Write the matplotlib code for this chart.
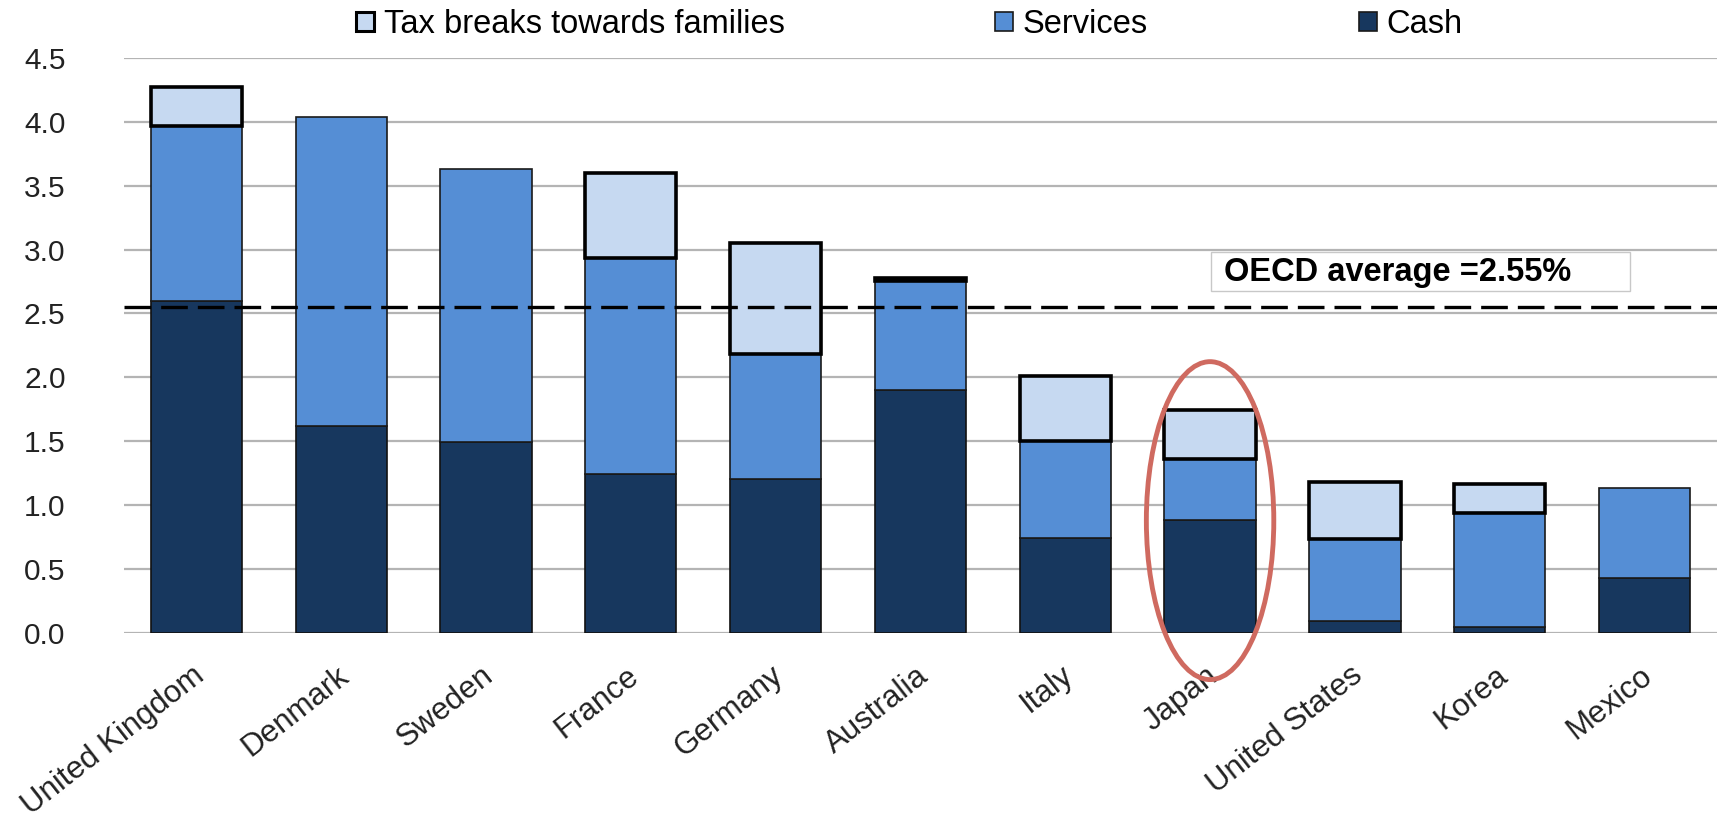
import matplotlib
matplotlib.use("Agg")
import matplotlib.pyplot as plt
from matplotlib.patches import Patch, Ellipse, Rectangle
from matplotlib.transforms import ScaledTranslation
import numpy as np

plt.rcParams['font.family'] = ['Liberation Sans', 'DejaVu Sans']

countries = ["United Kingdom", "Denmark", "Sweden", "France", "Germany", "Australia",
             "Italy", "Japan", "United States", "Korea", "Mexico"]
cash = [2.60, 1.62, 1.49, 1.24, 1.20, 1.90, 0.74, 0.88, 0.09, 0.04, 0.43]
services = [1.37, 2.42, 2.14, 1.69, 0.98, 0.85, 0.76, 0.48, 0.64, 0.90, 0.70]
tax_breaks = [0.30, 0.00, 0.00, 0.67, 0.87, 0.03, 0.51, 0.38, 0.45, 0.22, 0.00]
oecd_average = 2.55
yticks = [0.0, 0.5, 1.0, 1.5, 2.0, 2.5, 3.0, 3.5, 4.0, 4.5]

c_cash = "#17375E"
c_serv = "#558ED5"
c_tax = "#C6D9F1"

fig = plt.figure(figsize=(17.19, 8.15), dpi=100)
ax = fig.add_axes([0.0721, 0.2238, 0.9267, 0.705])

x = np.arange(len(countries))
cash_a = np.array(cash)
serv_a = np.array(services)
tax_a = np.array(tax_breaks)
w = 0.63

ax.bar(x, cash_a, width=w, color=c_cash, edgecolor="#111111", linewidth=1.2, zorder=3)
ax.bar(x, serv_a, width=w, bottom=cash_a, color=c_serv, edgecolor="#1a1a1a",
       linewidth=1.2, zorder=3)
has_tax = tax_a > 0
ax.bar(x[has_tax], tax_a[has_tax], width=w, bottom=(cash_a + serv_a)[has_tax],
       color=c_tax, edgecolor="black", linewidth=2.6, zorder=4)

# OECD average reference line with its label box
ax.axhline(oecd_average, color="black", lw=2.4, dashes=(8, 3), zorder=5)
fig.patches.append(Rectangle((0.7045, 0.6429), 0.2437, 0.0479, transform=fig.transFigure,
                             facecolor="white", edgecolor="#c8c8c8", lw=1, zorder=6))
fig.text(0.712, 0.666, "OECD average =2.55%", fontsize=23.5,
         fontweight="bold", va="center", ha="left", zorder=7)

ax.set_xlim(-0.5, len(countries) - 0.5)
ax.set_ylim(0, 4.5)
ax.set_yticks(yticks)
ax.set_yticklabels([f"{v:.1f}" for v in yticks], fontsize=21.5, color="#222222")
ax.tick_params(axis="y", length=0, pad=42)
ax.set_xticks(x)
ax.set_xticklabels(countries, rotation=38, ha="right", va="top",
                   rotation_mode="anchor", fontsize=22.5, color="#222222")
ax.tick_params(axis="x", length=0, pad=20)
shift = ScaledTranslation(-5 / 100, 0, fig.dpi_scale_trans)
for lbl in ax.get_xticklabels():
    lbl.set_transform(lbl.get_transform() + shift)
ax.yaxis.grid(True, color="#b4b4b4", lw=1.6, zorder=0)
ax.set_axisbelow(True)
for s in ax.spines.values():
    s.set_visible(False)

# highlight Japan
ell = Ellipse((7.0, 0.877), 0.88, 2.49, fill=False, edgecolor="#CF6A60", lw=3.5,
              clip_on=False, zorder=8)
ax.add_patch(ell)

handles = [Patch(facecolor=c_tax, edgecolor="black", lw=2.2),
           Patch(facecolor=c_serv, edgecolor="#1a1a1a", lw=1.2),
           Patch(facecolor=c_cash, edgecolor="#1a1a1a", lw=1.2)]
fig.legend(handles, ["Tax breaks towards families", "Services", "Cash"],
           loc="center", bbox_to_anchor=(0.529, 0.970), ncol=3, frameon=False,
           fontsize=23.5, handlelength=0.55, handleheight=0.55, handletextpad=0.3,
           columnspacing=6.45)

fig.savefig("out.png", dpi=100)
